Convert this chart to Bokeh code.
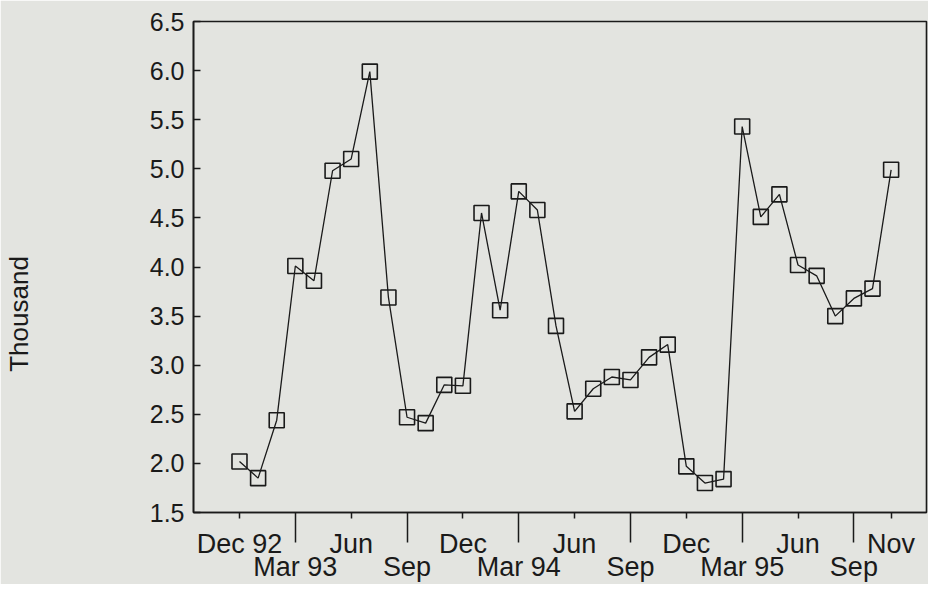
import math
from bokeh.plotting import figure
from bokeh.models import (Range1d, FixedTicker, LinearAxis,
                          ColumnDataSource, NumeralTickFormatter)
from bokeh.embed import file_html
from bokeh.resources import INLINE

# ---- data (monthly, in thousands) ----
months = ["Dec 92", "Jan 93", "Feb 93", "Mar 93", "Apr 93", "May 93",
          "Jun 93", "Jul 93", "Aug 93", "Sep 93", "Oct 93", "Nov 93",
          "Dec 93", "Jan 94", "Feb 94", "Mar 94", "Apr 94", "May 94",
          "Jun 94", "Jul 94", "Aug 94", "Sep 94", "Oct 94", "Nov 94",
          "Dec 94", "Jan 95", "Feb 95", "Mar 95", "Apr 95", "May 95",
          "Jun 95", "Jul 95", "Aug 95", "Sep 95", "Oct 95", "Nov 95"]
values = [2.02, 1.85, 2.44, 4.01, 3.86, 4.98,
          5.10, 5.99, 3.69, 2.47, 2.41, 2.80,
          2.79, 4.55, 3.56, 4.77, 4.58, 3.40,
          2.53, 2.76, 2.88, 2.85, 3.08, 3.21,
          1.97, 1.80, 1.84, 5.43, 4.51, 4.74,
          4.02, 3.91, 3.50, 3.68, 3.78, 4.99]

upper_ticks = ["Dec 92", "Jun 93", "Dec 93", "Jun 94", "Dec 94", "Jun 95", "Nov 95"]
upper_labels = ["Dec 92", "Jun", "Dec", "Jun", "Dec", "Jun", "Nov"]
lower_ticks = ["Mar 93", "Sep 93", "Mar 94", "Sep 94", "Mar 95", "Sep 95"]
lower_labels = ["Mar 93", "Sep", "Mar 94", "Sep", "Mar 95", "Sep"]
y_ticks = [1.5, 2.0, 2.5, 3.0, 3.5, 4.0, 4.5, 5.0, 5.5, 6.0, 6.5]
y_title = "Thousand"

# ---- styles ----
BG = "#e3e4e0"
INK = "#1a1a1a"
FONT = "Liberation Sans"

xs = list(range(len(months)))
src = ColumnDataSource(dict(x=xs, y=values, month=months))

p = figure(width=928, height=584, output_backend="svg", toolbar_location=None,
           x_range=Range1d(-2.47, 36.9), y_range=Range1d(1.5, 6.5),
           min_border_left=193, min_border_right=2, min_border_top=21,
           min_border_bottom=70,
           background_fill_color=BG, border_fill_color=BG)
p.grid.visible = False
p.outline_line_color = INK
p.outline_line_width = 1.6
p.outline_line_alpha = 1.0

p.line('x', 'y', source=src, line_color=INK, line_width=1.3)
p.scatter('x', 'y', source=src, marker='square', size=15,
          fill_color=None, line_color=INK, line_width=1.6)

up_idx = [months.index(m) for m in upper_ticks]
lo_idx = [months.index(m) for m in lower_ticks]

# x axis, first row (Dec / Jun / Nov) with long minor ticks at Mar / Sep
ax1 = p.xaxis[0]
ax1.ticker = FixedTicker(ticks=up_idx, minor_ticks=lo_idx)
ax1.major_label_overrides = {i: l for i, l in zip(up_idx, upper_labels)}
ax1.axis_line_color = INK
ax1.axis_line_width = 1.6
ax1.major_tick_in = 0
ax1.major_tick_out = 6
ax1.minor_tick_in = 0
ax1.minor_tick_out = 30
ax1.major_tick_line_color = INK
ax1.minor_tick_line_color = INK
ax1.major_tick_line_width = 1.5
ax1.minor_tick_line_width = 1.5
ax1.major_label_text_font = FONT
ax1.major_label_text_font_size = "27px"
ax1.major_label_text_color = INK
ax1.major_label_standoff = -14

# x axis, second row (Mar / Sep)
ax2 = LinearAxis(ticker=FixedTicker(ticks=lo_idx, minor_ticks=[]),
                 major_label_overrides={i: l for i, l in zip(lo_idx, lower_labels)},
                 axis_line_color=None, major_tick_line_color=None,
                 minor_tick_line_color=None, major_tick_in=0, major_tick_out=0,
                 minor_tick_in=0, minor_tick_out=0,
                 major_label_text_font=FONT, major_label_text_font_size="27px",
                 major_label_text_color=INK, major_label_standoff=-10)
p.add_layout(ax2, "below")

# y axis
ay = p.yaxis[0]
ay.ticker = FixedTicker(ticks=y_ticks, minor_ticks=[])
ay.formatter = NumeralTickFormatter(format="0.0")
ay.axis_line_color = INK
ay.axis_line_width = 1.6
ay.major_tick_in = 7
ay.major_tick_out = 0
ay.minor_tick_in = 0
ay.minor_tick_out = 0
ay.major_tick_line_color = INK
ay.major_tick_line_width = 1.5
ay.major_label_text_font = FONT
ay.major_label_text_font_size = "25px"
ay.major_label_text_color = INK
ay.major_label_standoff = 9
# title sits below the middle of the axis in the original: pad its end
ay.axis_label = y_title + "\u00a0" * 13
ay.axis_label_text_font = FONT
ay.axis_label_text_font_size = "26px"
ay.axis_label_text_font_style = "normal"
ay.axis_label_text_color = INK
ay.axis_label_standoff = 113

open("out.html", "w").write(file_html(p, INLINE))
